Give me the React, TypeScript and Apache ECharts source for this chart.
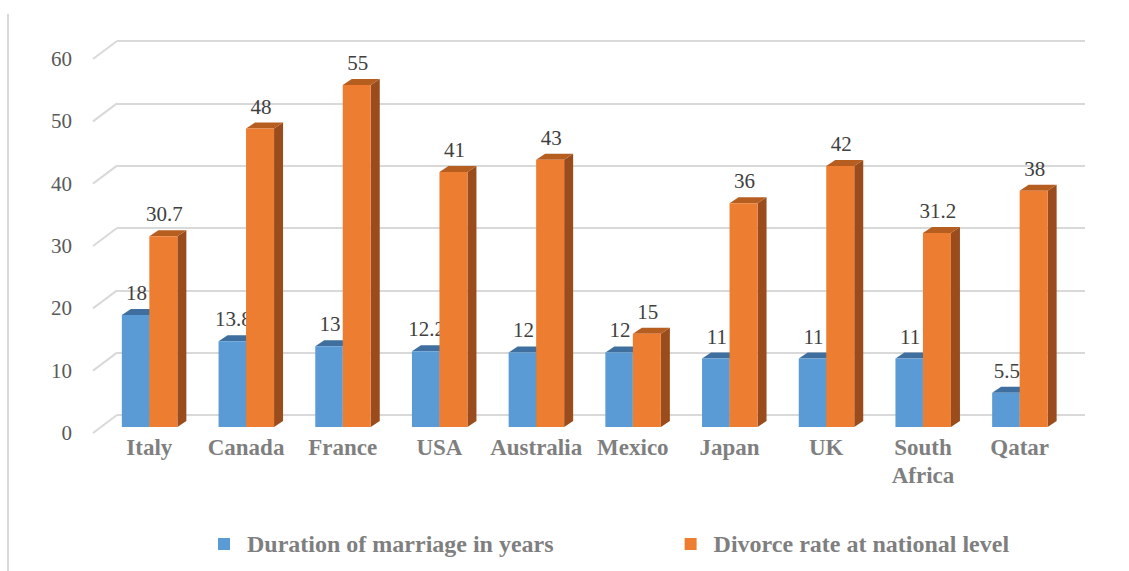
import React, { useEffect, useRef } from "react";
import * as echarts from "echarts";

const categories = ["Italy", "Canada", "France", "USA", "Australia", "Mexico", "Japan", "UK", "South\nAfrica", "Qatar"];
const duration = [18, 13.8, 13, 12.2, 12, 12, 11, 11, 11, 5.5];
const divorce = [30.7, 48, 55, 41, 43, 15, 36, 42, 31.2, 38];
const yTicks = [0, 10, 20, 30, 40, 50, 60];

const SERIF = "Liberation Serif";
const DX = 9;
const DY = 6;

function makeBarRender(side: "left" | "right", front: string, top: string, sideColor: string) {
  return (params: any, api: any) => {
    const idx = api.value(0);
    const v = api.value(1);
    const p = api.coord([idx, v]);
    const base = api.coord([idx, 0]);
    const cx = p[0];
    const x0 = side === "left" ? cx - 27.5 : cx;
    const x1 = side === "left" ? cx : cx + 28;
    const y = p[1];
    const by = base[1];
    return {
      type: "group",
      children: [
        {
          type: "polygon",
          shape: { points: [[x1, y], [x1 + DX, y - DY], [x1 + DX, by - DY], [x1, by]] },
          style: { fill: sideColor },
        },
        {
          type: "polygon",
          shape: { points: [[x0, y], [x1, y], [x1 + DX, y - DY], [x0 + DX, y - DY]] },
          style: { fill: top },
        },
        {
          type: "rect",
          shape: { x: x0, y: y, width: x1 - x0, height: by - y },
          style: { fill: front },
        },
        {
          type: "text",
          style: {
            x: (x0 + x1) / 2 + 1,
            y: y - 22,
            text: String(v),
            fill: "#404040",
            fontFamily: SERIF,
            fontSize: 21,
            align: "center",
            verticalAlign: "middle",
          },
        },
      ],
    };
  };
}

export default function App() {
  const ref = useRef<HTMLDivElement>(null);
  useEffect(() => {
    document.body.style.margin = "0";
    const chart = echarts.init(ref.current!, null, { renderer: "svg" });
    const option: any = {
      animation: false,
      backgroundColor: "#ffffff",
      textStyle: { fontFamily: SERIF },
      graphic: [
        {
          type: "line",
          shape: { x1: 8, y1: 14, x2: 8, y2: 571 },
          style: { stroke: "#d9d9d9", lineWidth: 2 },
        },
      ],
      legend: {
        left: 213,
        top: 527,
        itemWidth: 12,
        itemHeight: 12,
        itemGap: 131,
        icon: "rect",
        textStyle: {
          fontFamily: SERIF,
          fontWeight: "bold",
          fontSize: 24,
          color: "#7f7f7f",
          padding: [0, 0, 0, 12],
        },
        data: [
          { name: "Duration of marriage in years", itemStyle: { color: "#5b9bd5" } },
          { name: "Divorce rate at national level", itemStyle: { color: "#ed7d31" } },
        ],
      },
      grid: [
        { left: 101, right: 61, top: 54, bottom: 144 },
        { left: 117, right: 44, top: 41, bottom: 156 },
        { left: 93, right: 44, top: 59, bottom: 138 },
      ],
      xAxis: [
        {
          gridIndex: 0,
          type: "category",
          data: categories,
          axisLine: { show: false },
          axisTick: { show: false },
          axisLabel: {
            interval: 0,
            margin: 6,
            fontFamily: SERIF,
            fontWeight: "bold",
            fontSize: 23,
            color: "#7f7f7f",
            lineHeight: 28,
            verticalAlign: "top",
          },
        },
        { gridIndex: 1, type: "value", min: 0, max: 1, show: false },
        { gridIndex: 2, type: "value", min: 0, max: 1, show: false },
      ],
      yAxis: [
        { gridIndex: 0, type: "value", min: 0, max: 60, interval: 10, show: false },
        {
          gridIndex: 1,
          type: "value",
          min: 0,
          max: 60,
          interval: 10,
          axisLine: { show: false },
          axisTick: { show: false },
          axisLabel: { show: false },
          splitLine: { show: true, lineStyle: { color: "#d9d9d9", width: 2 } },
        },
        {
          gridIndex: 2,
          type: "value",
          min: 0,
          max: 60,
          interval: 10,
          axisLine: { show: false },
          axisTick: { show: false },
          splitLine: { show: false },
          axisLabel: {
            margin: 21,
            fontFamily: SERIF,
            fontSize: 21,
            color: "#595959",
          },
        },
      ],
      series: [
        {
          type: "custom",
          name: "diag",
          xAxisIndex: 1,
          yAxisIndex: 1,
          silent: true,
          data: yTicks.map((t) => [0, t]),
          renderItem: (params: any, api: any) => {
            const p = api.coord([0, api.value(1)]);
            return {
              type: "line",
              shape: { x1: p[0] - 24, y1: p[1] + 18, x2: p[0], y2: p[1] },
              style: { stroke: "#d9d9d9", lineWidth: 2 },
            };
          },
        },
        {
          type: "custom",
          name: "Duration of marriage in years",
          xAxisIndex: 0,
          yAxisIndex: 0,
          itemStyle: { color: "#5b9bd5" },
          data: duration.map((v, i) => [i, v]),
          renderItem: makeBarRender("left", "#5b9bd5", "#3e6f9e", "#3e6f9e"),
        },
        {
          type: "custom",
          name: "Divorce rate at national level",
          xAxisIndex: 0,
          yAxisIndex: 0,
          itemStyle: { color: "#ed7d31" },
          data: divorce.map((v, i) => [i, v]),
          renderItem: makeBarRender("right", "#ed7d31", "#b65d20", "#9b4c1c"),
        },
      ],
    };
    chart.setOption(option);
    return () => chart.dispose();
  }, []);
  return <div ref={ref} style={{ width: 1129, height: 571 }} />;
}
